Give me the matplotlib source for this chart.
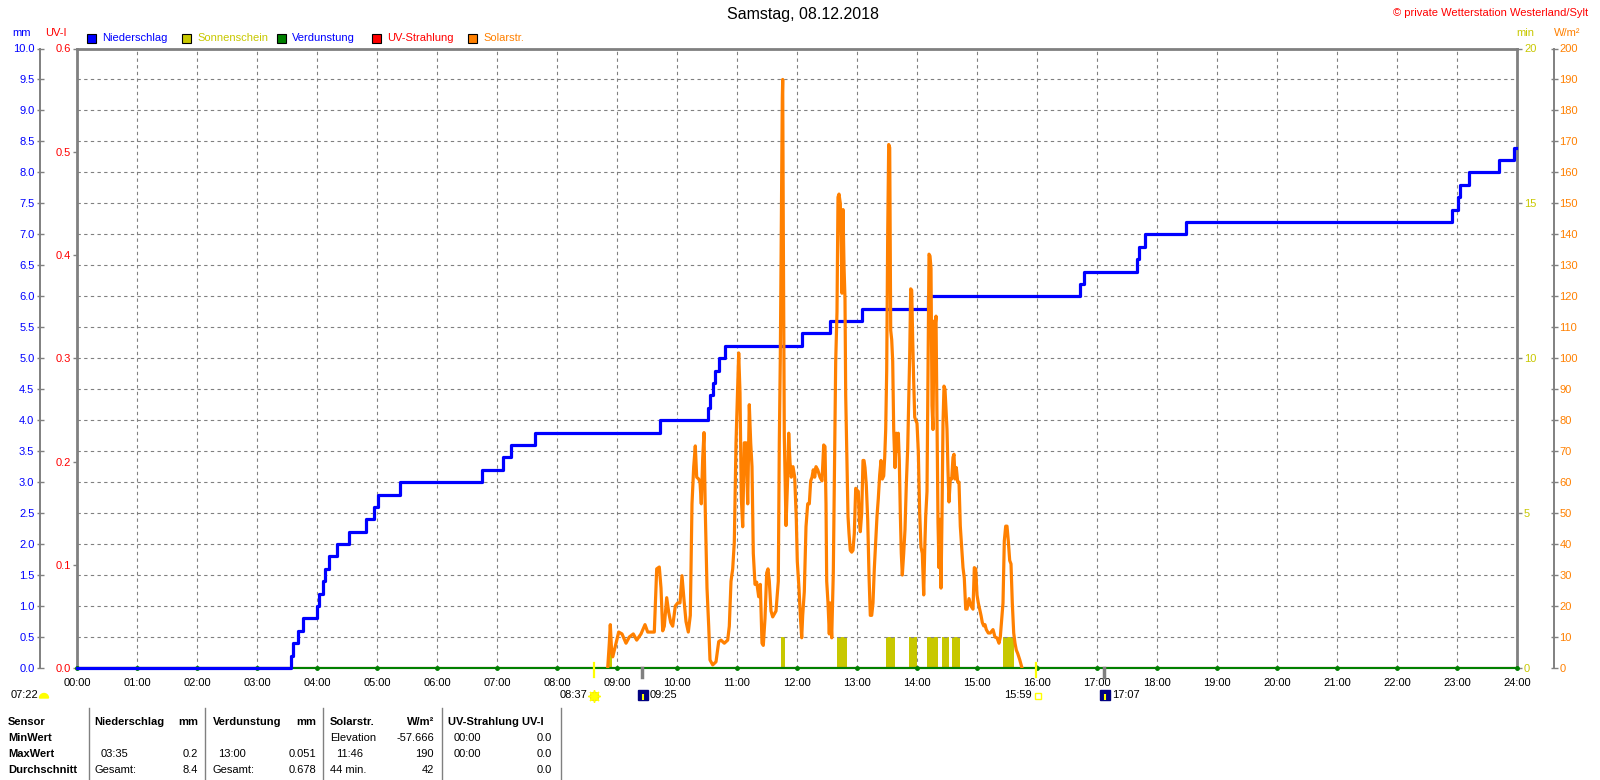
import matplotlib
matplotlib.use('Agg')
import matplotlib.pyplot as plt
from matplotlib.patches import Rectangle, Wedge
from matplotlib.transforms import blended_transform_factory
import numpy as np

plt.rcParams['font.family'] = ['Liberation Sans', 'DejaVu Sans']

# ---- data ----
# rain gauge tips (time of each 0.2 mm step) and running total
rain_times = ['03:34', '03:36', '03:41', '03:46', '04:00', '04:02', '04:06', '04:08',
              '04:12', '04:20', '04:32', '04:49', '04:57', '05:01', '05:23', '06:45',
              '07:06', '07:14', '07:38', '09:43', '10:31', '10:33', '10:36', '10:38',
              '10:42', '10:48', '12:05', '12:33', '13:05', '14:11', '16:43', '16:47',
              '17:40', '17:42', '17:48', '18:29', '22:55', '23:01', '23:03', '23:12',
              '23:42', '23:57']
rain_total = [0.2, 0.4, 0.6, 0.8, 1.0, 1.2, 1.4, 1.6, 1.8, 2.0, 2.2, 2.4, 2.6, 2.8,
              3.0, 3.2, 3.4, 3.6, 3.8, 4.0, 4.2, 4.4, 4.6, 4.8, 5.0, 5.2, 5.4, 5.6,
              5.8, 6.0, 6.2, 6.4, 6.6, 6.8, 7.0, 7.2, 7.4, 7.6, 7.8, 8.0, 8.2, 8.4]

# solar radiation, minutes after midnight and W/m2
solar_min = [530.7, 532.3, 533.3, 534.7, 535.7, 538.3, 541.7, 545, 549, 552.3, 556.3,
             559.7, 564, 568, 570.7, 574, 577.3, 579.7, 582.3, 584, 585.7, 587.3, 589.7,
             591.7, 593.7, 595.7, 598.3, 600.7, 603, 605, 607, 609, 611.3, 613.3, 615,
             616.7, 618.3, 619.7, 621.7, 623, 624.3, 625.7, 627, 628.3, 630, 631.7, 633,
             635.7, 639, 641.7, 644, 647.3, 650.7, 652.3, 654, 655.7, 657.3, 659, 660.3,
             661.7, 663, 664.3, 665.7, 667.3, 669, 670.7, 672.3, 673.7, 675, 676.3, 678,
             679.7, 681.7, 683.3, 685, 686.3, 688, 689.7, 691, 692.3, 694, 695.7, 699,
             701.3, 702.3, 703.3, 704.3, 705.3, 705.7, 706.3, 707.3, 708, 709, 710.7,
             711.7, 713, 714.3, 716, 717.7, 719.3, 720.3, 722, 723.3, 724.7, 725.7, 727.3,
             729, 730.7, 732.3, 733.7, 735, 736.3, 737.7, 739, 740.7, 743, 745, 746.7,
             748, 749, 749.7, 751, 752.3, 753.3, 754.7, 756.3, 757.7,
             758.7, 760, 761, 762, 763.3, 764.3, 765, 766, 767, 768, 768.7, 770, 771,
             772, 773.3, 774.7, 776, 777.3, 778.7, 780, 781.3, 782.3, 783.3, 784.7, 786,
             787, 788, 789.3, 790.7, 792, 793.3, 794.7, 796, 797.3, 798.7, 800, 801.3,
             802.7, 804, 805.3, 806.7, 807.7, 808.7, 809.7, 810.7, 811.7, 812.7, 813.7,
             814.7, 815.7, 816.7, 818, 819.3, 820.3, 821.3, 822.3, 823.3, 824.3, 825.3,
             826.7, 828, 829.3, 830.7, 831.7, 832.7, 833.7, 834.7, 835.7, 836.7, 837.7,
             838.7, 840, 841.3, 842.7, 844, 845.3, 846.7, 847.7, 848.7, 850, 851, 852,
             853, 854, 855, 856, 857, 858, 859, 860, 861, 862, 863, 864, 865, 866, 867,
             868, 869, 870, 871, 872, 873.3, 874.7, 876, 877, 878, 879.3, 880.7, 882,
             883.3, 884.7, 886, 887.3, 888.7, 890, 892, 894, 896, 897.3, 898.7, 900,
             901.3, 902.7, 904, 905.3, 906.7, 908, 909.3, 911.3, 913.3, 916, 918, 920,
             922, 923.3, 924.7, 926, 927.3, 928.7, 930, 931.3, 932.7, 934, 935.3, 936.7,
             938, 939.3, 940.7, 942.7, 945]
solar_wm2 = [0, 8, 14, 5, 3.6, 7, 11.6, 11, 8, 10, 11,
             9, 11, 14, 11.6, 11.6, 11.6, 32, 32.6, 25.8, 12, 13.5, 22.7,
             18, 14.7, 13.5, 20, 21, 21, 29.8, 22, 15, 11.6, 17, 53,
             65, 71.7, 61.6, 61, 60, 53, 67.8, 76, 50.5, 25.8, 13.5, 2.6,
             1, 2, 8.5, 9, 8, 9, 13.5, 28, 32, 40.6, 72.7, 87,
             101.7, 88.8, 55, 45.6, 72.7, 72.7, 53, 85, 72.7, 65, 37, 27,
             27.7, 23, 27, 8, 7.3, 16, 30.7, 32, 28, 18.4, 16.5, 18.4,
             28, 72.7, 100, 140.6, 184, 190, 141.9, 75, 62.8, 46, 61.6,
             75.8, 66.5, 61.6, 65, 61.6, 48, 34.4, 25.8, 17, 9.75, 17, 24.6,
             45.6, 53, 53, 60.4, 61.6, 64, 61.6, 65, 64, 61.6, 60.4, 72,
             71.5, 53, 28, 21, 11, 21, 9.75, 30.7, 70,
             99, 115, 152, 153, 150, 135, 121, 148, 130, 119, 88, 66, 49,
             43.5, 38, 37.4, 38, 43.5, 58, 57.4, 57, 48, 44, 50, 67,
             67, 64.7, 59, 48, 30, 17, 17, 21, 32, 41, 49, 54.7,
             62.4, 67, 61, 62, 68, 77, 96, 140, 169, 168, 109,
             106, 99, 77, 64.7, 75.8, 70, 75.8, 67, 50, 37, 30,
             37, 44.7, 59, 71, 85.8, 101, 122.4, 122, 106, 92.4, 81,
             80, 79, 70, 50, 39, 37, 23.6, 38, 49, 57, 93.6, 133.6,
             133, 129, 84.7, 77, 112, 110, 113.6, 82, 47, 32.4, 48, 25.8, 49, 79, 91,
             90, 83.6, 77, 63.6, 53.6, 61, 61, 68, 69, 61, 64.7, 60, 60,
             45.8, 39, 32.4, 29, 19, 19, 22.4, 20, 19, 32.4, 32, 23.6,
             21, 19, 17, 14.7, 13.6, 14, 12.4, 11.3, 11.3, 12.4, 10, 9.7,
             8, 10, 15.8, 21, 41, 45.8, 45.8, 41, 34.7, 33.6, 21, 11.3,
             8, 5.8, 4.7, 2.7, 0]

# sunshine minutes
sun_start = ['08:52', '11:44', '12:40', '13:29', '13:52', '14:10', '14:25', '14:35', '15:26']
sun_length = [3, 4, 10, 9, 8, 11, 7, 8, 11]
sun_height = [1, 1, 1, 1, 1, 1, 1, 1, 1]

# evaporation and UV (flat at zero), hourly
hours = list(range(0, 25))
evap = [0.0] * 25
uv = [0.0] * 25

x_labels = ['%02d:00' % h for h in hours]
mm_ticks = np.arange(0, 10.01, 0.5)
uv_ticks = [0.0, 0.1, 0.2, 0.3, 0.4, 0.5, 0.6]
sun_ticks = [0, 5, 10, 15, 20]
sol_ticks = list(range(0, 201, 10))

events = [('08:37', 'sunrise'), ('09:25', 'moonrise'), ('15:59', 'sunset'), ('17:07', 'moonset')]

BLUE = '#0000FF'
OLIVE = '#C8C800'
GREEN = '#008000'
RED = '#FF0000'
ORANGE = '#FF8000'
GRAY = '#808080'


def tmin(s):
    h, m = s.split(':')
    return int(h) * 60 + int(m)


W, H = 1600, 780


def fx(x):
    return x / W


def fy(y):
    return 1 - y / H


PT = 0.72  # points per pixel at dpi 100

fig = plt.figure(figsize=(16, 7.8), dpi=100)
L, R, T, B = 77, 1517, 48.5, 668
ax = fig.add_axes([fx(L), fy(B), (R - L) / W, (B - T) / H])
ax_uv = ax.twinx()
ax_sun = ax.twinx()
ax_sol = ax.twinx()
ax_sun.set_zorder(1)
ax_uv.set_zorder(1.5)
ax.set_zorder(2)
ax_sol.set_zorder(3)
ax.patch.set_visible(False)

# main (mm) axis
ax.set_xlim(0, 1440)
ax.set_ylim(0, 10)
ax.set_xticks([h * 60 for h in hours])
ax.set_xticklabels(x_labels)
ax.set_yticks(mm_ticks)
ax.set_yticklabels(['%.1f' % v for v in mm_ticks])
ax.tick_params(axis='x', length=0, pad=7, labelsize=8, colors='black')
ax.tick_params(axis='y', direction='inout', length=7 * PT, width=1, color=GRAY,
               labelcolor=BLUE, labelsize=8, pad=1.5)
for s in ['top', 'right', 'bottom']:
    ax.spines[s].set_visible(False)
ax.spines['left'].set_position(('outward', 37 * PT))
ax.spines['left'].set_color(GRAY)
ax.spines['left'].set_linewidth(1.4)
ax.grid(True, color=GRAY, linestyle=(0, (3, 3)), linewidth=0.8)

ax.plot([h * 60 for h in hours], evap, color=GREEN, lw=1.5, marker='o', ms=2.5,
        clip_on=False)
rx = [0] + [tmin(t) for t in rain_times] + [1439]
ry = [0] + rain_total + [rain_total[-1]]
ax.plot(rx, ry, drawstyle='steps-post', color=BLUE, lw=2.3, clip_on=False)

# UV axis (left, at frame)
ax_uv.set_ylim(0, 0.6)
ax_uv.yaxis.set_ticks_position('left')
ax_uv.set_yticks(uv_ticks)
ax_uv.set_yticklabels(['%.1f' % v for v in uv_ticks])
ax_uv.tick_params(axis='y', direction='out', length=4 * PT, width=1, color=GRAY,
                  labelcolor=RED, labelsize=8, pad=1.5)
for s in ['left', 'top', 'right', 'bottom']:
    ax_uv.spines[s].set_color(GRAY)
    ax_uv.spines[s].set_linewidth(2.0)
ax_uv.spines['bottom'].set_linewidth(1.5)
ax_uv.plot([h * 60 for h in hours], uv, color=RED, lw=1.5)

# sunshine axis (right, at frame)
ax_sun.set_ylim(0, 20)
ax_sun.set_yticks(sun_ticks)
ax_sun.tick_params(axis='y', direction='out', length=5 * PT, width=1, color=GRAY,
                   labelcolor=OLIVE, labelsize=8, pad=1.5)
for s in ax_sun.spines.values():
    s.set_visible(False)
ax_sun.bar([tmin(t) for t in sun_start], sun_height, width=sun_length, align='edge',
           color=OLIVE, linewidth=0)

# solar axis (right, outward)
ax_sol.set_ylim(0, 200)
ax_sol.set_yticks(sol_ticks)
ax_sol.tick_params(axis='y', direction='inout', length=7 * PT, width=1, color=GRAY,
                   labelcolor=ORANGE, labelsize=8, pad=1.5)
for s in ['left', 'top', 'bottom']:
    ax_sol.spines[s].set_visible(False)
ax_sol.spines['right'].set_position(('outward', 37 * PT))
ax_sol.spines['right'].set_color(GRAY)
ax_sol.spines['right'].set_linewidth(1.4)
ax_sol.plot(solar_min, solar_wm2, color=ORANGE, lw=2.3)

# titles and unit labels
fig.text(fx(803), fy(15), 'Samstag, 08.12.2018', ha='center', va='center', fontsize=11.5)
fig.text(fx(1588), fy(13), '\u00a9 private Wetterstation Westerland/Sylt', ha='right',
         va='center', fontsize=8, color=RED)
fig.text(fx(22), fy(33), 'mm', ha='center', va='center', fontsize=8, color=BLUE)
fig.text(fx(56), fy(33), 'UV-I', ha='center', va='center', fontsize=8, color=RED)
fig.text(fx(1525), fy(33), 'min', ha='center', va='center', fontsize=8, color=OLIVE)
fig.text(fx(1567), fy(33), 'W/m\u00b2', ha='center', va='center', fontsize=8, color=ORANGE)

# legend
legend = [('Niederschlag', BLUE, BLUE, 87), ('Sonnenschein', OLIVE, OLIVE, 182),
          ('Verdunstung', GREEN, BLUE, 277), ('UV-Strahlung', RED, RED, 372),
          ('Solarstr.', ORANGE, ORANGE, 468)]
for lab, c, tc, x0 in legend:
    fig.patches.append(Rectangle((fx(x0), fy(42.5)), 9 / W, 9 / H, transform=fig.transFigure,
                                 facecolor=c, edgecolor='black', lw=0.8))
    fig.text(fx(x0 + 15), fy(38), lab, ha='left', va='center', fontsize=8, color=tc)

# sun / moon events below the time axis
bt = blended_transform_factory(ax.transData, fig.dpi_scale_trans)
yin = lambda y: (H - y) / 100.0
for t, kind in events:
    m = tmin(t)
    if kind in ('sunrise', 'sunset'):
        ax.plot([m, m], [yin(663), yin(677)], transform=bt, color='#FFFF00', lw=1.6,
                clip_on=False, zorder=5)
    else:
        ax.plot([m, m], [yin(668), yin(677)], transform=bt, color=GRAY, lw=2.5,
                clip_on=False, zorder=5)
    if kind == 'sunrise':
        ax.plot([m], [yin(696)], transform=bt, marker='o', ms=6, color='#FFFF00',
                mec='#F0E000', clip_on=False)
        ax.plot([m], [yin(696)], transform=bt, marker=(8, 2, 0), ms=9, color='#FFFF00',
                mew=1, clip_on=False)
        ax.text(m - 7, yin(695), t, transform=bt, ha='right', va='center', fontsize=8)
    elif kind == 'sunset':
        ax.plot([m + 2], [yin(696)], transform=bt, marker='s', ms=4, mfc='none',
                mec='#FFFF00', mew=1, clip_on=False)
        ax.text(m - 4, yin(695), t, transform=bt, ha='right', va='center', fontsize=8)
    else:
        ax.plot([m + 1], [yin(695)], transform=bt, marker='s', ms=7.5, color='#000080',
                clip_on=False)
        ax.plot([m + 1], [yin(697)], transform=bt, marker='|', ms=5, mew=1.5,
                color='#FFFF00', clip_on=False)
        ax.text(m + 8, yin(695), t, transform=bt, ha='left', va='center', fontsize=8)

fig.text(fx(11), fy(695), '07:22', ha='left', va='center', fontsize=8)
fig.patches.append(Wedge((44 / 100.0, yin(698)), 0.045, 0, 180,
                         transform=fig.dpi_scale_trans, color='#FFFF00'))

# summary table
for xs in [88.5, 205, 323, 442, 561]:
    fig.add_artist(plt.Line2D([fx(xs), fx(xs)], [fy(708), fy(780)], color=GRAY, lw=1,
                              transform=fig.transFigure))
rows_y = [722, 738, 754, 770]
table = [
    (8, 0, 'Sensor', 'bold', 'left'), (8, 1, 'MinWert', 'bold', 'left'),
    (8, 2, 'MaxWert', 'bold', 'left'), (8, 3, 'Durchschnitt', 'bold', 'left'),
    (94.5, 0, 'Niederschlag', 'bold', 'left'), (198, 0, 'mm', 'bold', 'right'),
    (212.5, 0, 'Verdunstung', 'bold', 'left'), (316, 0, 'mm', 'bold', 'right'),
    (330, 0, 'Solarstr.', 'bold', 'left'), (434, 0, 'W/m\u00b2', 'bold', 'right'),
    (448, 0, 'UV-Strahlung UV-I', 'bold', 'left'),
    (330, 1, 'Elevation', 'normal', 'left'), (434, 1, '-57.666', 'normal', 'right'),
    (454, 1, '00:00', 'normal', 'left'), (552, 1, '0.0', 'normal', 'right'),
    (100.5, 2, '03:35', 'normal', 'left'), (198, 2, '0.2', 'normal', 'right'),
    (218.5, 2, '13:00', 'normal', 'left'), (316, 2, '0.051', 'normal', 'right'),
    (336, 2, '11:46', 'normal', 'left'), (434, 2, '190', 'normal', 'right'),
    (454, 2, '00:00', 'normal', 'left'), (552, 2, '0.0', 'normal', 'right'),
    (94.5, 3, 'Gesamt:', 'normal', 'left'), (198, 3, '8.4', 'normal', 'right'),
    (212.5, 3, 'Gesamt:', 'normal', 'left'), (316, 3, '0.678', 'normal', 'right'),
    (330, 3, '44 min.', 'normal', 'left'), (434, 3, '42', 'normal', 'right'),
    (552, 3, '0.0', 'normal', 'right'),
]
for x0, r, txt, wt, ha in table:
    fig.text(fx(x0), fy(rows_y[r]), txt, ha=ha, va='center', fontsize=8, fontweight=wt)

fig.savefig('out.png', dpi=100)
